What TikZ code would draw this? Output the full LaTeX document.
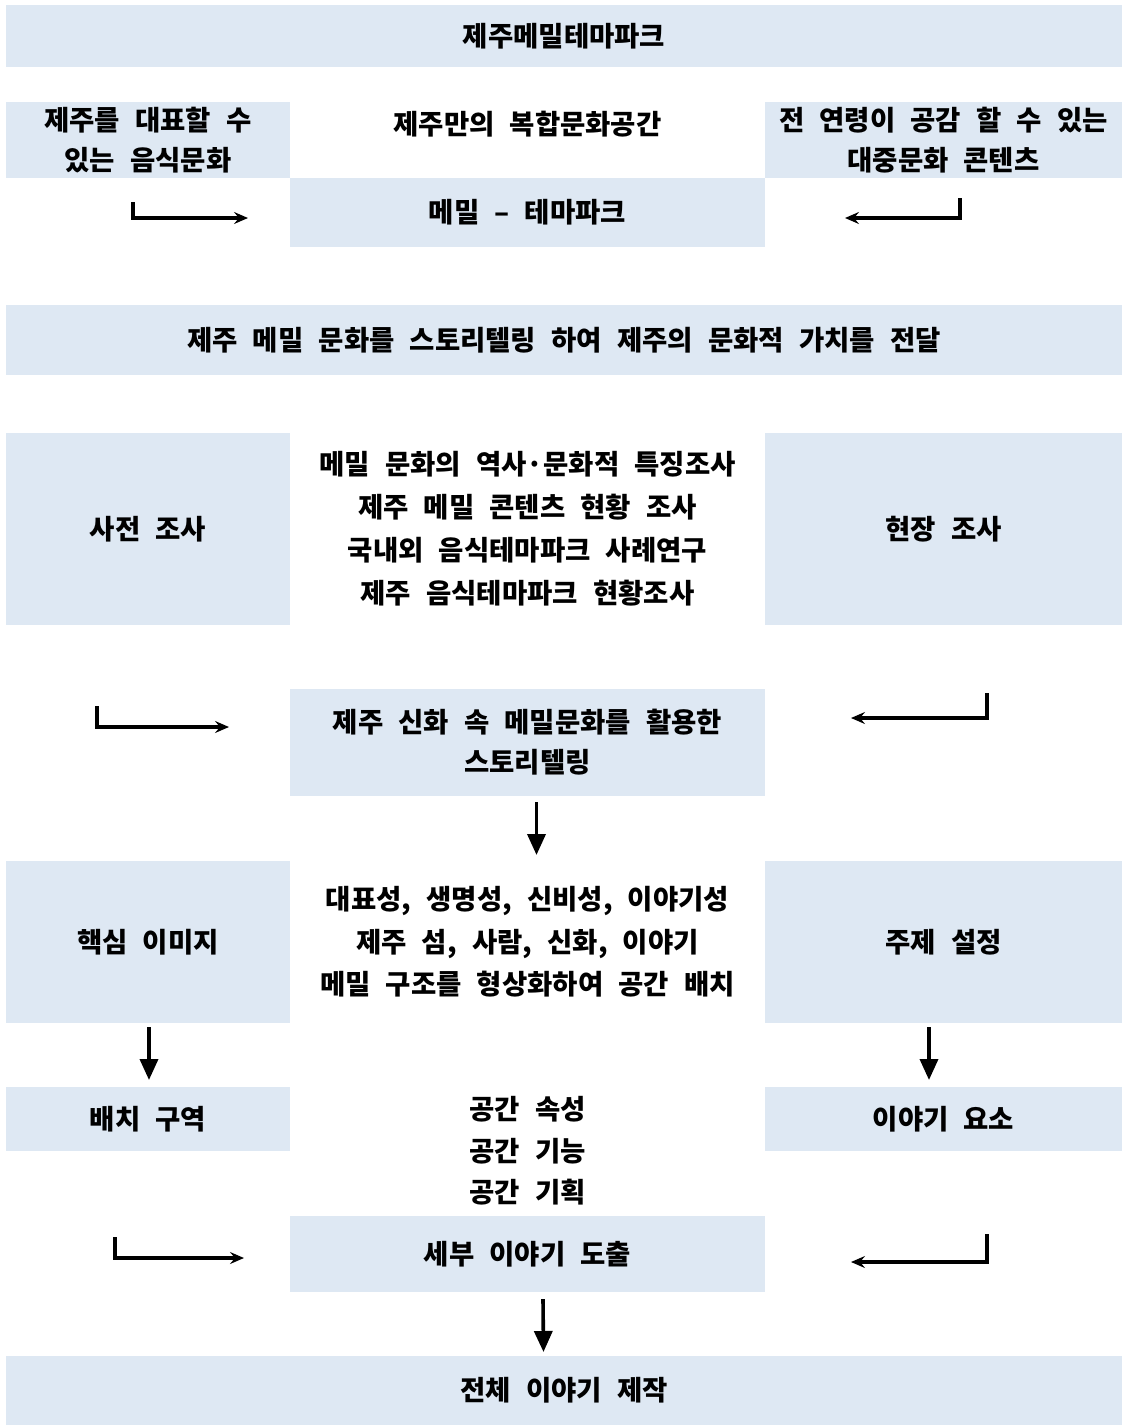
\documentclass[tikz,border=0pt]{standalone}
\usepackage{fontspec}
\setmainfont{Noto Sans CJK KR}[WordSpace=2.4]
\usetikzlibrary{arrows.meta,calc}
\definecolor{boxblue}{HTML}{DEE8F3}
\newcommand{\kfont}[1]{\fontsize{27.5}{#1}\selectfont\bfseries}
\begin{document}
\begin{tikzpicture}[x=1pt,y=-1pt,
  box/.style={fill=boxblue,draw=none,anchor=north west,inner sep=0pt,outer sep=0pt,align=center,font=\kfont{40}},
  plain/.style={anchor=north west,inner sep=0pt,outer sep=0pt,align=center},
  darrow/.style={line width=3.6pt,-{Triangle[length=21pt,width=18pt]}},
  larrow/.style={line width=3.6pt,-{Stealth[length=14pt,width=12pt,inset=5pt]}}
]
\useasboundingbox (0,0) rectangle (1123,1425);
\fill[white] (0,0) rectangle (1123,1425);
% Row 1
\node[box,minimum width=1116pt,minimum height=62pt] (top) at (6,5) {제주메밀테마파크};
% Row 2
\node[box,minimum width=284pt,minimum height=76pt] (lb1) at (6,102) {제주를 대표할 수\\있는 음식문화};
\node[plain,minimum width=475pt,minimum height=44pt,font=\kfont{40}] (ct1) at (290,102) {제주만의 복합문화공간};
\node[box,minimum width=357pt,minimum height=76pt] (rb1) at (765,102) {전 연령이 공감 할 수 있는\\대중문화 콘텐츠};
\node[box,minimum width=475pt,minimum height=69pt] (mid1) at (290,178) {메밀 – 테마파크};
\coordinate (l1a) at (133,202); \coordinate (l1b) at (248,218);
\coordinate (r1a) at (960,198); \coordinate (r1b) at (845,218);
\draw[larrow] (l1a) |- (l1b);
\draw[larrow] (r1a) |- (r1b);
% Row 3
\node[box,minimum width=1116pt,minimum height=70pt] (goal) at (6,305) {제주 메밀 문화를 스토리텔링 하여 제주의 문화적 가치를 전달};
% Row 4
\node[box,minimum width=284pt,minimum height=192pt] (lb2) at (6,433) {사전 조사};
\node[plain,minimum width=475pt,minimum height=192pt,font=\kfont{43}] (ct2) at (290,433) {메밀 문화의 역사·문화적 특징조사\\제주 메밀 콘텐츠 현황 조사\\국내외 음식테마파크 사례연구\\제주 음식테마파크 현황조사};
\node[box,minimum width=357pt,minimum height=192pt] (rb2) at (765,433) {현장 조사};
% Row 5
\node[box,minimum width=475pt,minimum height=107pt] (stor) at (290,689) {제주 신화 속 메밀문화를 활용한\\스토리텔링};
\coordinate (l2a) at (97,706); \coordinate (l2b) at (229,727);
\coordinate (r2a) at (987,693); \coordinate (r2b) at (851,718);
\draw[larrow] (l2a) |- (l2b);
\draw[larrow] (r2a) |- (r2b);
% Row 6
\node[box,minimum width=284pt,minimum height=162pt] (lb3) at (6,861) {핵심 이미지};
\node[plain,minimum width=475pt,minimum height=162pt,font=\kfont{42.5}] (ct3) at (290,861) {대표성, 생명성, 신비성, 이야기성\\제주 섬, 사람, 신화, 이야기\\메밀 구조를 형상화하여 공간 배치};
\node[box,minimum width=357pt,minimum height=162pt] (rb3) at (765,861) {주제 설정};
\draw[darrow] ([xshift=9pt,yshift=-6pt]stor.south) -- ([xshift=9pt,yshift=6pt]ct3.north);
% Row 7
\node[box,minimum width=284pt,minimum height=64pt] (lb4) at (6,1087) {배치 구역};
\node[plain,minimum width=475pt,minimum height=126pt,font=\kfont{41.5}] (ct4) at (290,1088) {공간 속성\\공간 기능\\공간 기획};
\node[box,minimum width=357pt,minimum height=64pt] (rb4) at (765,1087) {이야기 요소};
\draw[darrow] ([xshift=1pt,yshift=-4pt]lb3.south) -- ([xshift=1pt,yshift=7pt]lb4.north);
\draw[darrow] ([xshift=-14.5pt,yshift=-4pt]rb3.south) -- ([xshift=-14.5pt,yshift=7pt]rb4.north);
% Row 8
\node[box,minimum width=475pt,minimum height=76pt] (det) at (290,1216) {세부 이야기 도출};
\coordinate (l3a) at (115,1237); \coordinate (l3b) at (244,1258);
\coordinate (r3a) at (987,1234); \coordinate (r3b) at (851,1262);
\draw[larrow] (l3a) |- (l3b);
\draw[larrow] (r3a) |- (r3b);
% Row 9
\node[box,minimum width=1116pt,minimum height=69pt] (fin) at (6,1356) {전체 이야기 제작};
\draw[darrow] ([xshift=15.5pt,yshift=-7pt]det.south) -- ([xshift=-20.5pt,yshift=4pt]fin.north);
\end{tikzpicture}
\end{document}
